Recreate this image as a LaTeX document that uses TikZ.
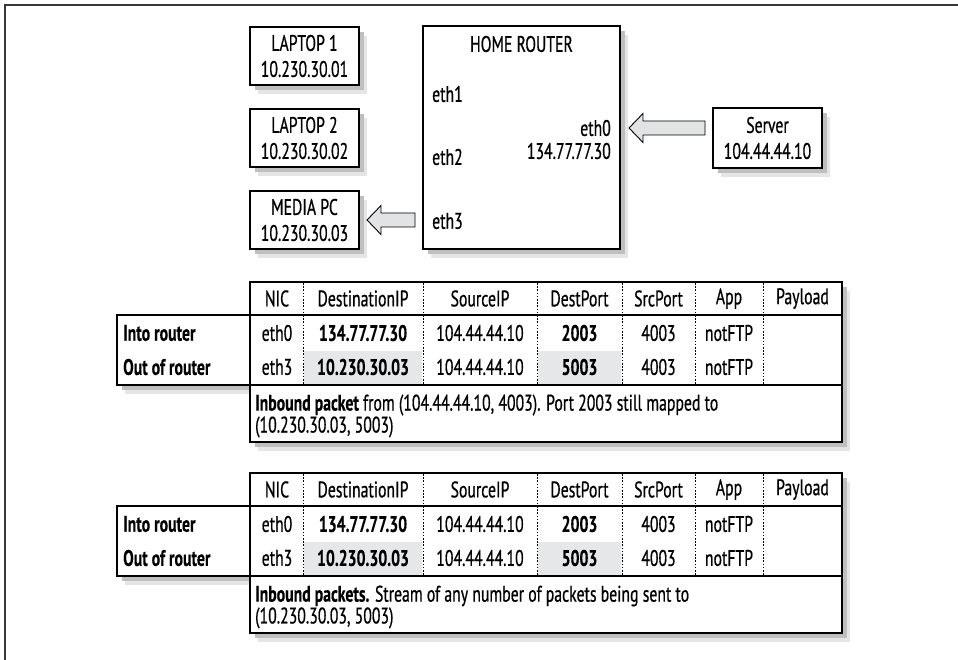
\documentclass[tikz,border=0pt]{standalone}
\usepackage{fontspec}
\setmainfont{PT Sans}[FakeStretch=0.70,FakeBold=0.6,BoldFeatures={FakeBold=0.3}]
\usepackage{tikz}
\usetikzlibrary{positioning,calc,shadows}
\definecolor{CellGray}{RGB}{230,231,232}
\definecolor{ArrowGray}{RGB}{226,227,228}
\definecolor{FrameGray}{RGB}{55,55,55}
\tikzset{
  box/.style={draw=black,line width=2pt,fill=white,inner sep=0pt,align=center,
    font=\fontsize{22.5}{26}\selectfont,
    drop shadow={shadow xshift=8pt,shadow yshift=-9pt,fill=black!10,opacity=1},
    drop shadow={shadow xshift=5pt,shadow yshift=-5pt,fill=black!25,opacity=1}},
  lab/.style={inner sep=0pt,font=\fontsize{22.5}{24}\selectfont},
  fatarr/.style={draw=black,line width=0.9pt,fill=ArrowGray,line join=miter},
  sep/.style={draw=black,line width=1pt,dash pattern=on 1.6pt off 1.6pt},
  frame/.style={draw=FrameGray,line width=1.4pt},
}
\newcommand{\fatarrow}[2]{%
  \draw[fatarr] let \p1=(#1),\p2=(#2) in
    (\p2) -- ++(14pt,14.5pt) -- ++(0pt,-7.5pt) -- (\x1,\y2+7pt) -- (\x1,\y2-7pt)
    -- (\x2+14pt,\y2-7pt) -- ++(0pt,-7.5pt) -- cycle;}

\begin{document}
\begin{tikzpicture}[x=1pt,y=-1pt]
\useasboundingbox (0,0) rectangle (958,660);
\draw[frame] (958,5) -- (5,5) -- (5,660);

\node[box,minimum width=109,minimum height=58] (lap1) at (304.5,56) {LAPTOP 1\\10.230.30.01};
\node[box,minimum width=109,minimum height=58] (lap2) at (304.5,138) {LAPTOP 2\\10.230.30.02};
\node[box,minimum width=109,minimum height=58] (mpc) at (304.5,220) {MEDIA PC\\10.230.30.03};
\node[box,minimum width=109,minimum height=60] (srv) at (767.5,138) {Server\\104.44.44.10};

\node[box,minimum width=197,minimum height=223] (rtr) at (521.5,137.5) {};
\node[lab] (rtitle) at (521.5,44) {HOME ROUTER};
\node[lab,anchor=west] (eth1) at (432,94) {eth1};
\node[lab,anchor=west] (eth2) at (432,157) {eth2};
\node[lab,anchor=west] (eth3) at (432,221) {eth3};
\node[lab,anchor=east] (eth0) at (611,128) {eth0};
\node[lab,anchor=east] (wanip) at (611,151) {134.77.77.30};

\coordinate (in1) at ($(srv.west |- eth0)+(-7,0)$);
\coordinate (in2) at ($(rtr.east |- eth0)+(8,0)$);
\fatarrow{in1}{in2}
\coordinate (out1) at ($(rtr.west |- mpc.east)+(-7,0)$);
\coordinate (out2) at ($(mpc.east)+(7,0)$);
\fatarrow{out1}{out2}

\foreach \ty/\t/\msg in {0/a/{\textbf{Inbound packet} from (104.44.44.10, 4003).  Port 2003 still mapped to\\(10.230.30.03, 5003)},
    191/b/{\textbf{Inbound packets.}  Stream of any number of packets being sent to\\(10.230.30.03, 5003)}}{
  \begin{scope}[yshift=-\ty pt]
  \node[box,minimum width=133,minimum height=70] (rows\t) at (183.5,350) {};
  \node[box,minimum width=592,minimum height=33] (hdr\t) at (546,298.5) {};
  \node[box,minimum width=592,minimum height=70] (dat\t) at (546,350) {};
  \node[box,minimum width=592,minimum height=57] (nbox\t) at (546,413.5) {};
  \fill[CellGray] (304,351) rectangle (422,384);
  \fill[CellGray] (538,351) rectangle (621,384);
  \foreach \sx in {303,423,537,622,695,763}
    \draw[sep] (\sx,283) -- (\sx,384);
  \node[lab] (hnic\t) at (277,298.5) {NIC};
  \node[lab] (hdip\t) at (363,298.5) {DestinationIP};
  \node[lab] (hsip\t) at (480,298.5) {SourceIP};
  \node[lab] (hdpt\t) at (579.5,298.5) {DestPort};
  \node[lab] (hspt\t) at (658.5,298.5) {SrcPort};
  \node[lab] (happ\t) at (729,298.5) {App};
  \node[lab] (hpay\t) at (802.5,298.5) {Payload};
  \node[lab,anchor=west] (rin\t) at (123,333) {\textbf{Into router}};
  \node[lab,anchor=west] (rout\t) at (123,367) {\textbf{Out of router}};
  \node[lab] (nic1\t) at (277,333) {eth0};
  \node[lab] (dip1\t) at (363,333) {\textbf{134.77.77.30}};
  \node[lab] (sip1\t) at (480,333) {104.44.44.10};
  \node[lab] (dpt1\t) at (579.5,333) {\textbf{2003}};
  \node[lab] (spt1\t) at (658.5,333) {4003};
  \node[lab] (app1\t) at (729,333) {notFTP};
  \node[lab] (nic2\t) at (277,367) {eth3};
  \node[lab] (dip2\t) at (363,367) {\textbf{10.230.30.03}};
  \node[lab] (sip2\t) at (480,367) {104.44.44.10};
  \node[lab] (dpt2\t) at (579.5,367) {\textbf{5003}};
  \node[lab] (spt2\t) at (658.5,367) {4003};
  \node[lab] (app2\t) at (729,367) {notFTP};
  \node[lab,anchor=west,align=left,font=\fontsize{22.5}{19.5}\selectfont] (note\t) at (255,416) {\msg};
  \end{scope}
}
\end{tikzpicture}
\end{document}
